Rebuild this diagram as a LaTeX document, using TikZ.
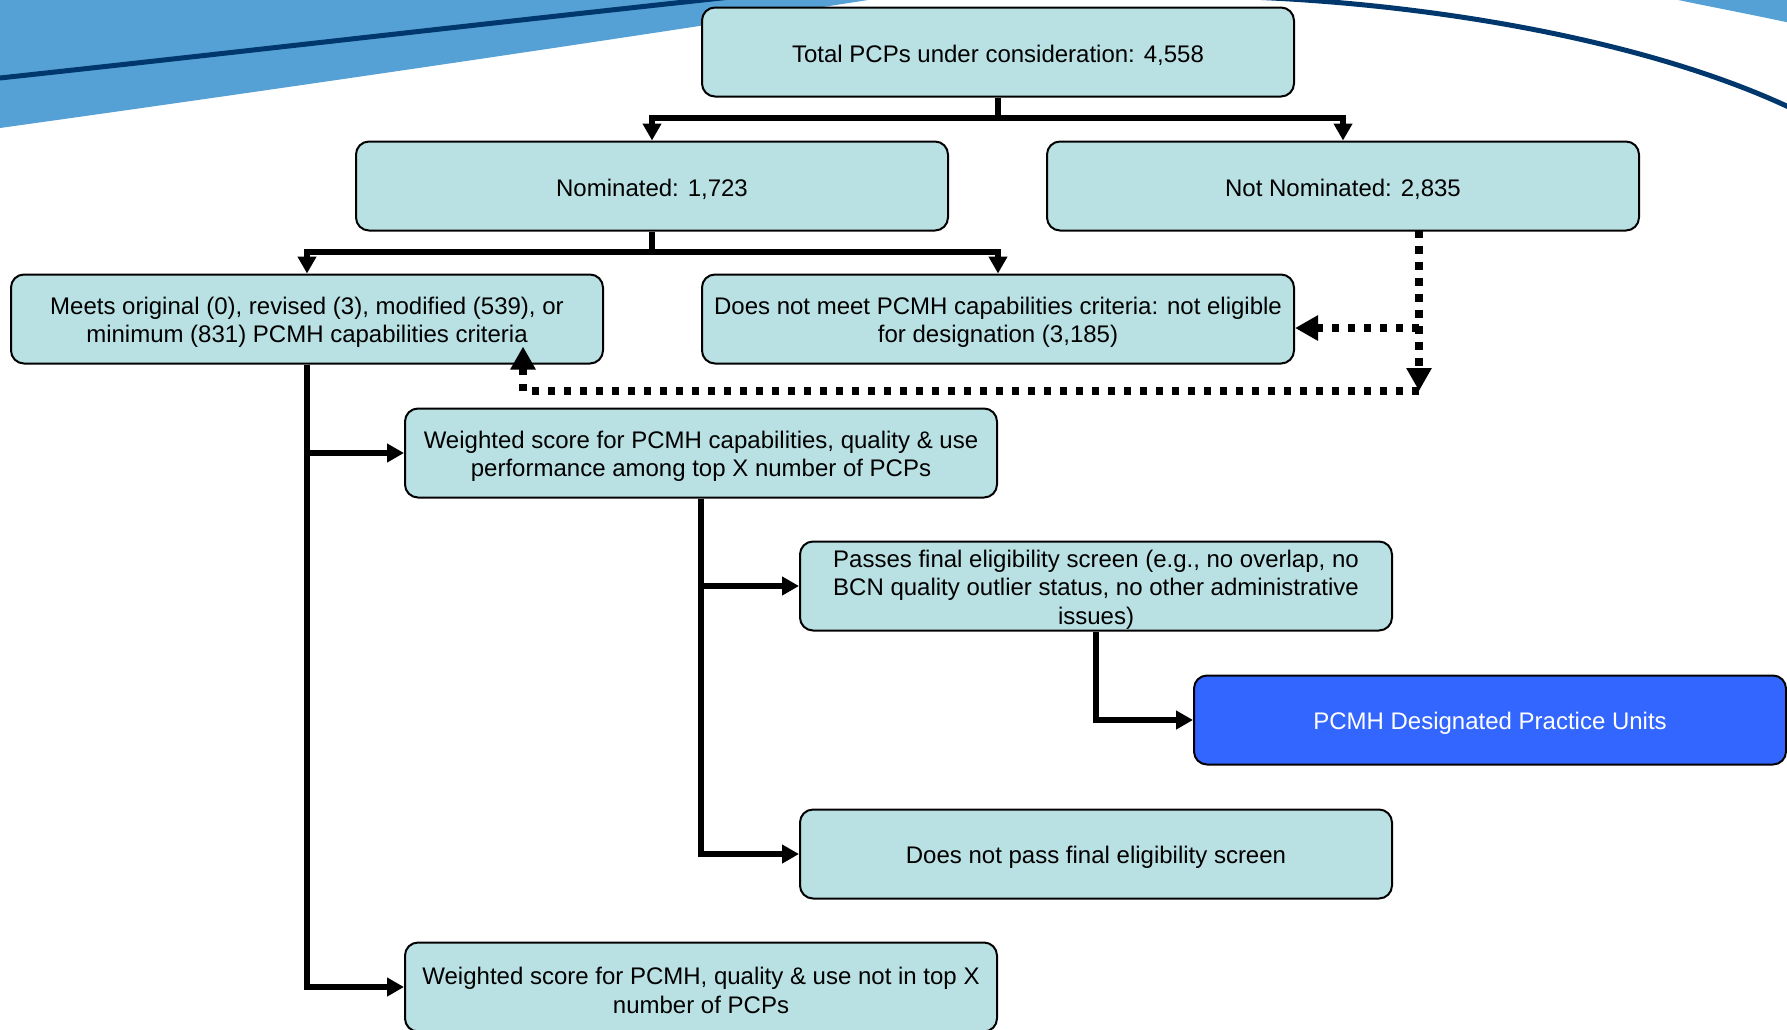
\documentclass[tikz,border=0pt]{standalone}
\usepackage{fontspec}
\setmainfont{Liberation Sans}
\usetikzlibrary{arrows.meta}
\definecolor{boxfill}{RGB}{185,224,227}
\definecolor{pcmhblue}{RGB}{51,102,255}
\definecolor{bandblue}{RGB}{85,160,213}
\definecolor{navyline}{RGB}{0,56,110}
\newcommand{\firstlinestrut}{\rule{0pt}{24pt}}
\tikzset{
  stage/.style={draw=black, line width=2pt, fill=boxfill, rounded corners=13pt,
    minimum width=592pt, minimum height=89pt, inner sep=0pt, align=center,
    font=\fontsize{24}{28.5}\selectfont},
  finalbox/.style={stage, fill=pcmhblue, text=white},
  conn/.style={line width=5.3pt, -{Triangle[width=18pt,length=17pt]}},
  dotconn/.style={line width=7.5pt, dash pattern=on 7.5pt off 8.5pt, -{Triangle[width=24pt,length=23pt]}},
  plainarrow/.style={line width=5.3pt}
}
\begin{document}
\begin{tikzpicture}[x=1pt, y=-1pt]
\useasboundingbox (0,0) rectangle (1787,1029);
% background swoosh
\begin{scope}
\clip (0,0) rectangle (1787,1029);
\fill[bandblue] (0,-5) -- (0,128) .. controls (300,86) and (600,42) .. (900,-5) -- cycle;
\draw[navyline, line width=5pt] (0,78) .. controls (240,52) and (480,24) .. (740,-4);
\fill[bandblue] (1655,-5) .. controls (1700,5) and (1750,14) .. (1795,24) -- (1795,-5) -- cycle;
\draw[navyline, line width=5pt] (1250,-3) .. controls (1450,5) and (1660,45) .. (1795,110);
\end{scope}
% nodes
\node[stage] (total) at (998,52) {\firstlinestrut Total PCPs under consideration: 4,558};
\node[stage] (nom) at (652,186) {\firstlinestrut Nominated: 1,723};
\node[stage] (notnom) at (1343,186) {\firstlinestrut Not Nominated: 2,835};
\node[stage] (meets) at (307,319) {\firstlinestrut Meets original (0), revised (3), modified (539), or\\minimum (831) PCMH capabilities criteria};
\node[stage] (notmeet) at (998,319) {\firstlinestrut Does not meet PCMH capabilities criteria: not eligible\\for designation (3,185)};
\node[stage] (wtop) at (701,453) {\firstlinestrut Weighted score for PCMH capabilities, quality \& use\\performance among top X number of PCPs};
\node[stage] (passes) at (1096,586) {\firstlinestrut Passes final eligibility screen (e.g., no overlap, no\\BCN quality outlier status, no other administrative\\issues)};
\node[finalbox] (pcmh) at (1490,720) {\firstlinestrut PCMH Designated Practice Units};
\node[stage] (notpass) at (1096,854) {\firstlinestrut Does not pass final eligibility screen};
\node[stage] (wnot) at (701,987) {\firstlinestrut Weighted score for PCMH, quality \& use not in top X\\number of PCPs};
% solid connectors
\coordinate (s1) at (998,118);
\draw[plainarrow] (total.south) -- (s1);
\draw[conn] (s1) -| (nom.north);
\draw[conn] (s1) -| (notnom.north);
\coordinate (s2) at (652,252);
\draw[plainarrow] (nom.south) -- (s2);
\draw[conn] (s2) -| (meets.north);
\draw[conn] (s2) -| (notmeet.north);
\draw[conn] (meets.south) |- (wtop.west);
\draw[conn] (meets.south) |- (wnot.west);
\draw[conn] (wtop.south) |- (passes.west);
\draw[conn] (wtop.south) |- (notpass.west);
\draw[conn] (passes.south) |- (pcmh.west);
% dotted connectors
\coordinate (dtop) at (1419,230);
\coordinate (dmid) at (1419,328);
\coordinate (dbot) at (1419,391);
\coordinate (dleft) at (523,391);
\draw[dotconn] (dtop) -- (dbot);
\draw[dotconn] (dmid) -- (notmeet.east |- dmid);
\draw[dotconn, shorten >=-18pt] (dbot) -- (dleft) -- (dleft |- meets.south);
\end{tikzpicture}
\end{document}
